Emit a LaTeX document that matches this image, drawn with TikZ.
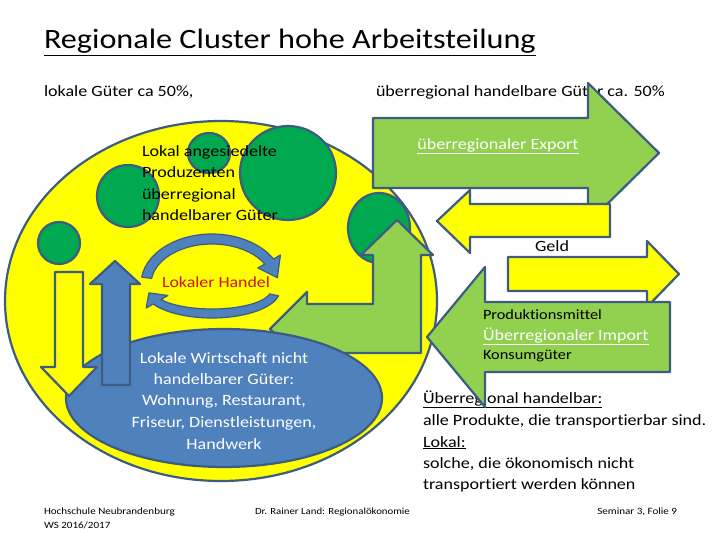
\documentclass[tikz,border=0pt]{standalone}
\usepackage{fontspec}
\setmainfont[FakeStretch=1.15,Ligatures=NoCommon]{Carlito}
\usetikzlibrary{calc,shapes.geometric}
\definecolor{ygel}{RGB}{255,255,0}
\definecolor{dgreen}{RGB}{0,168,80}
\definecolor{lgreen}{RGB}{146,208,80}
\definecolor{bblue}{RGB}{79,129,189}
\definecolor{bcol}{RGB}{60,92,130}
\definecolor{hred}{RGB}{208,20,20}
\begin{document}
\begin{tikzpicture}[x=1pt,y=-1pt,
  bd/.style={draw=bcol,line width=2.2pt,line join=round},
  txt/.style={inner sep=0pt,outer sep=0pt},
  f15/.style={font=\fontsize{15.7}{18}\selectfont},
  f14/.style={font=\fontsize{14.2}{16}\selectfont},
  f10/.style={font=\fontsize{9.6}{12}\selectfont},
  bl/.style={anchor=base west}]
\fill[white] (0,0) rectangle (720,540);
\useasboundingbox (0,0) rectangle (720,540);
% headings
\node[txt,bl,font=\fontsize{28}{32}\selectfont] (title) at (44,49) {\underline{Regionale Cluster hohe Arbeitsteilung}};
\node[txt,bl,f15] (lok) at (44,97) {lokale Güter ca 50\%,};
\node[txt,bl,f15] (ueb) at (376,97) {überregional handelbare Güter ca. 50\%};
% right explanation
\node[txt,bl,f15] (r1) at (423,403) {\underline{Überregional handelbar:}};
\node[txt,bl,f15] (r2) at (423,425) {alle Produkte, die transportierbar sind.};
\node[txt,bl,f15] (r3) at (423,447) {\underline{Lokal:}};
\node[txt,bl,f15] (r4) at (423,468) {solche, die ökonomisch nicht};
\node[txt,bl,f15] (r5) at (423,489) {transportiert werden können};
% footer
\node[txt,bl,f10] (ft1) at (44,514) {Hochschule Neubrandenburg};
\node[txt,bl,f10] (ft2) at (44,528) {WS 2016/2017};
\node[txt,bl,font=\fontsize{9.4}{12}\selectfont] (ft3) at (255,514) {Dr. Rainer Land: Regionalökonomie};
\node[txt,anchor=base east,f10] (ft4) at (677,514) {Seminar 3, Folie 9};
% big yellow circle
\draw[bd,fill=ygel] (221,301) ellipse[x radius=216,y radius=180];
% green circles
\draw[bd,fill=dgreen] (209,153) ellipse[x radius=21,y radius=20];
\draw[bd,fill=dgreen] (288,173) ellipse[x radius=48,y radius=47];
\draw[bd,fill=dgreen] (128,196) ellipse[x radius=31,y radius=31];
\draw[bd,fill=dgreen] (59,243) ellipse[x radius=21,y radius=21];
\draw[bd,fill=dgreen] (379,228) ellipse[x radius=31,y radius=35];
% producer text
\node[txt,bl,f15] (p1) at (142,157) {Lokal angesiedelte};
\node[txt,bl,f15] (p2) at (142,178) {Produzenten};
\node[txt,bl,f15] (p3) at (142,199.5) {überregional};
\node[txt,bl,f15] (p4) at (142,221) {handelbarer Güter};
% circular arrows
\filldraw[bd,line width=1.2pt,fill=bblue] (212,284) ++(-172:71 and 50)
  arc[start angle=-172,end angle=-30,x radius=71,y radius=50]
  -- ($(212,284)+(-30:79 and 58)$) -- ($(212,284)+(-8:66 and 45)$)
  -- ($(212,284)+(-30:53 and 32)$) -- ($(212,284)+(-30:61 and 40)$)
  arc[start angle=-30,end angle=-172,x radius=61,y radius=40] -- cycle;
\filldraw[bd,line width=1.2pt,fill=bblue] (212,290) ++(12:68 and 28)
  arc[start angle=12,end angle=150,x radius=68,y radius=28]
  -- ($(212,290)+(150:76 and 36)$) -- ($(212,290)+(173:63.5 and 23.5)$)
  -- ($(212,290)+(150:51 and 11)$) -- ($(212,290)+(150:59 and 19)$)
  arc[start angle=150,end angle=12,x radius=59,y radius=19] -- cycle;
\node[txt,font=\fontsize{15.5}{18}\selectfont,text=hred] (lh) at (216,282) {Lokaler Handel};
% L-shaped green arrow
\draw[bd,fill=lgreen] (397,220) -- (433,255) -- (421,255) -- (421,353) -- (307,353)
  -- (307,366) -- (270,329) -- (307,292) -- (307,304) -- (373,304) -- (373,255)
  -- (361,255) -- cycle;
% blue ellipse
\node[bd,fill=bblue,ellipse,minimum width=316pt,minimum height=138pt,inner sep=0pt] (lw) at (224,398) {};
\node[txt,f15,text=white] (w1) at (224,358) {Lokale Wirtschaft nicht};
\node[txt,f15,text=white] (w2) at (224,379) {handelbarer Güter:};
\node[txt,f15,text=white] (w3) at (224,401) {Wohnung, Restaurant,};
\node[txt,f15,text=white] (w4) at (224,423) {Friseur, Dienstleistungen,};
\node[txt,f15,text=white] (w5) at (224,444) {Handwerk};
% left vertical arrows
\draw[bd,fill=ygel] (55,272) -- (83,272) -- (83,367) -- (97,367) -- (69,396) -- (41,367) -- (55,367) -- cycle;
\draw[bd,fill=bblue] (115,261) -- (140,284) -- (130,284) -- (130,385) -- (102,385) -- (102,284) -- (90,284) -- cycle;
% export arrow
\draw[bd,fill=lgreen] (373,118) -- (588,118) -- (588,83) -- (659,153) -- (588,223) -- (588,188) -- (373,188) -- cycle;
\node[txt,f15,text=white] (exp) at (498,146) {\underline{überregionaler Export}};
% money back arrow
\draw[bd,fill=ygel] (610,204) -- (470,204) -- (470,190) -- (437,221) -- (470,253) -- (470,237) -- (610,237) -- cycle;
\node[txt,f15] (geld) at (552,246) {Geld};
\draw[bd,fill=ygel] (508,257) -- (647,257) -- (647,241) -- (679,274) -- (647,307) -- (647,291) -- (508,291) -- cycle;
% import arrow
\draw[bd,fill=lgreen] (670,302) -- (485,302) -- (485,267) -- (427,337) -- (485,407) -- (485,372) -- (670,372) -- cycle;
\node[txt,bl,f14] (im1) at (483,319) {Produktionsmittel};
\node[txt,bl,f15,text=white] (im2) at (483,340) {\underline{Überregionaler Import}};
\node[txt,bl,f14] (im3) at (483,359) {Konsumgüter};
\end{tikzpicture}
\end{document}
